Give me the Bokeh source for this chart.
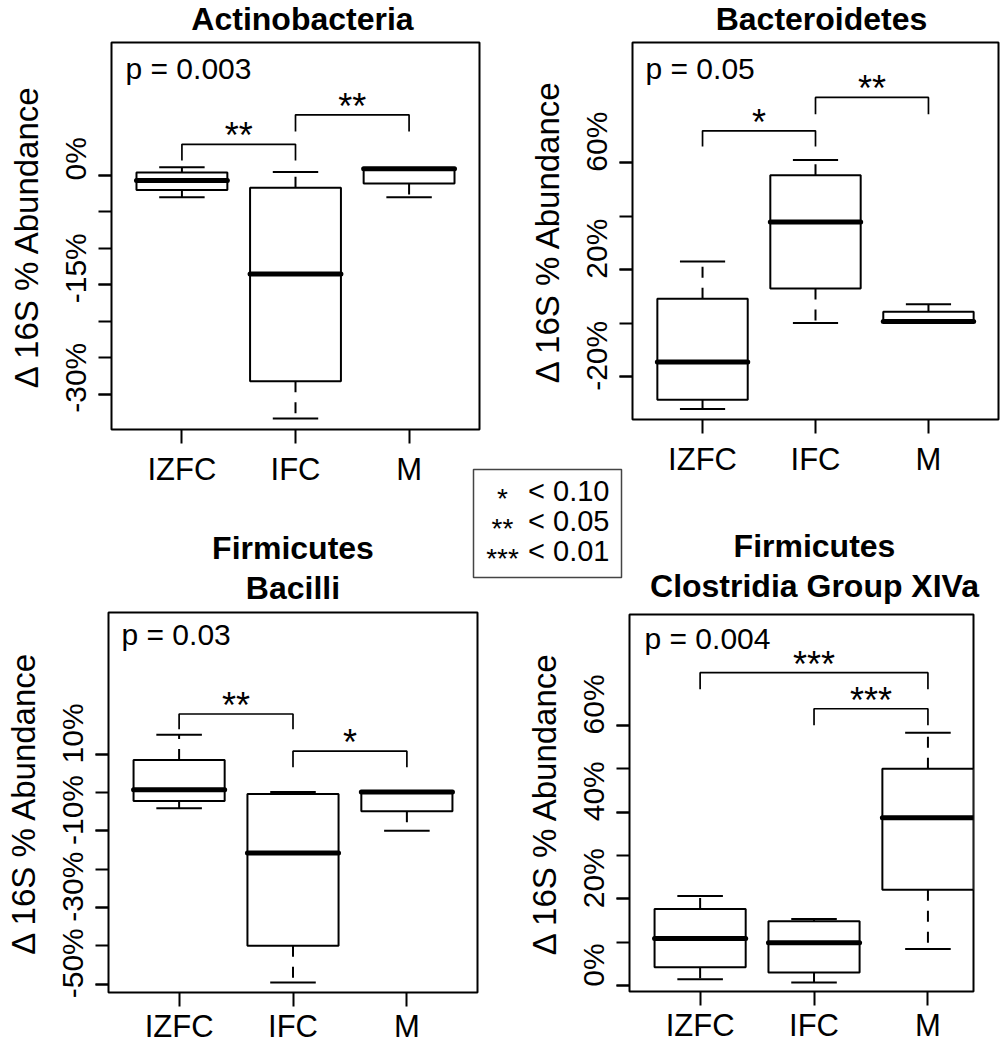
import numpy as np
from bokeh.plotting import figure
from bokeh.models import (Range1d, FixedTicker, PrintfTickFormatter,
                          GridBox, ColumnDataSource)
from bokeh.embed import file_html
from bokeh.resources import INLINE
from bokeh.core.properties import value

FONT = "Liberation Sans"
NBSP = "\u00a0"


def mid(px):
    # distance from the alphabetic baseline up to the middle of the em box
    return 0.3465 * px


# ---------------- data ----------------
groups = ["IZFC", "IFC", "M"]
group_pos = [1, 2, 3]
y_axis_title = "Δ 16S % Abundance"

# Actinobacteria
act_title = ["Actinobacteria"]
act_p = "p = 0.003"
act_min = [-3.0, -33.3, -3.0]
act_q1 = [-2.0, -28.2, -1.1]
act_med = [-0.7, -13.5, 0.9]
act_q3 = [0.4, -1.7, 0.9]
act_max = [1.1, 0.45, 0.9]
act_ticks = [-30, -25, -20, -15, -10, -5, 0]
act_tick_labels = [-30, -15, 0]
act_br_from = [1, 2]
act_br_to = [2, 3]
act_br_top = [4.25, 8.3]
act_br_foot = [2.05, 6.0]
act_br_stars = ["**", "**"]

# Bacteroidetes
bac_title = ["Bacteroidetes"]
bac_p = "p = 0.05"
bac_min = [-32.1, 0.0, 0.0]
bac_q1 = [-28.6, 12.9, 0.2]
bac_med = [-14.5, 37.8, 0.6]
bac_q3 = [9.1, 55.2, 4.2]
bac_max = [23.0, 60.9, 7.0]
bac_ticks = [-20, 0, 20, 40, 60]
bac_tick_labels = [-20, 20, 60]
bac_br_from = [1, 2]
bac_br_to = [2, 3]
bac_br_top = [71.8, 84.3]
bac_br_foot = [66.0, 78.0]
bac_br_stars = ["*", "**"]

# Firmicutes Bacilli
bacil_title = ["Firmicutes", "Bacilli"]
bacil_p = "p = 0.03"
bacil_min = [-4.1, -49.6, -10.0]
bacil_q1 = [-2.2, -40.0, -4.9]
bacil_med = [0.7, -15.8, 0.15]
bacil_q3 = [8.5, -0.4, 0.15]
bacil_max = [15.1, 0.15, 0.15]
bacil_ticks = [-50, -40, -30, -20, -10, 0, 10]
bacil_tick_labels = [-50, -30, -10, 10]
bacil_br_from = [1, 2]
bacil_br_to = [2, 3]
bacil_br_top = [20.5, 10.8]
bacil_br_foot = [16.5, 6.6]
bacil_br_stars = ["**", "*"]

# Firmicutes Clostridia Group XIVa
clos_title = ["Firmicutes", "Clostridia Group XIVa"]
clos_p = "p = 0.004"
clos_min = [1.5, 0.8, 8.5]
clos_q1 = [4.3, 3.1, 22.1]
clos_med = [10.9, 9.9, 38.7]
clos_q3 = [17.7, 14.9, 50.0]
clos_max = [20.7, 15.4, 58.3]
clos_ticks = [0, 10, 20, 30, 40, 50, 60]
clos_tick_labels = [0, 20, 40, 60]
clos_br_from = [1, 2]
clos_br_to = [3, 3]
clos_br_top = [72.1, 63.8]
clos_br_foot = [68.3, 60.0]
clos_br_stars = ["***", "***"]

# significance legend
legend_stars = ["*", "**", "***"]
legend_text = ["< 0.10", "< 0.05", "< 0.01"]

# ---------------- layout (page pixels) ----------------
panels = [
    dict(title=act_title, p=act_p, lo=act_min, q1=act_q1, med=act_med, q3=act_q3, hi=act_max,
         ticks=act_ticks, labels=act_tick_labels, bf=act_br_from, bt=act_br_to,
         btop=act_br_top, bfoot=act_br_foot, stars=act_br_stars,
         xr=(0.38, 3.62), yr=(-34.8, 18.2),
         cx=3, cy=0, w=478, h=505, l=108, r=2, t=42, b=76, xso=8, lshift=4,
         px=14, py=36, tdx=7, tbase=[30]),
    dict(title=bac_title, p=bac_p, lo=bac_min, q1=bac_q1, med=bac_med, q3=bac_q3, hi=bac_max,
         ticks=bac_ticks, labels=bac_tick_labels, bf=bac_br_from, bt=bac_br_to,
         btop=bac_br_top, bfoot=bac_br_foot, stars=bac_br_stars,
         xr=(0.38, 3.62), yr=(-36.0, 104.8),
         cx=483, cy=0, w=517, h=479, l=149, r=2, t=42, b=57, xso=8, lshift=5,
         px=13, py=36, tdx=6, tbase=[30]),
    dict(title=bacil_title, p=bacil_p, lo=bacil_min, q1=bacil_q1, med=bacil_med, q3=bacil_q3, hi=bacil_max,
         ticks=bacil_ticks, labels=bacil_tick_labels, bf=bacil_br_from, bt=bacil_br_to,
         btop=bacil_br_top, bfoot=bacil_br_foot, stars=bacil_br_stars,
         xr=(0.38, 3.62), yr=(-52.2, 47.0),
         cx=0, cy=505, w=479, h=541, l=108, r=2, t=107, b=52, xso=2, lshift=5,
         px=13, py=32, tdx=0, tbase=[-53, -13]),
    dict(title=clos_title, p=clos_p, lo=clos_min, q1=clos_q1, med=clos_med, q3=clos_q3, hi=clos_max,
         ticks=clos_ticks, labels=clos_tick_labels, bf=clos_br_from, bt=clos_br_to,
         btop=clos_br_top, bfoot=clos_br_foot, stars=clos_br_stars,
         xr=(0.38, 3.40), yr=(-1.3, 85.5),
         cx=482, cy=479, w=494, h=566, l=147, r=3, t=135, b=52, xso=2, lshift=5,
         px=15, py=34, tdx=13, tbase=[-57, -17]),
]

STAR_PX, PTXT_PX, TITLE_PX = 36, 30, 32


def build_panel(c):
    p = figure(width=c["w"], height=c["h"], x_range=Range1d(*c["xr"]), y_range=Range1d(*c["yr"]),
               output_backend="svg", toolbar_location=None, title=None,
               min_border_left=c["l"], min_border_right=c["r"],
               min_border_top=c["t"], min_border_bottom=c["b"])
    p.background_fill_color = "white"
    p.border_fill_color = "white"
    p.outline_line_color = "black"
    p.outline_line_width = 2
    p.xgrid.visible = False
    p.ygrid.visible = False

    xa = p.xaxis[0]
    xa.ticker = FixedTicker(ticks=group_pos)
    xa.major_label_overrides = {pos: name for pos, name in zip(group_pos, groups)}
    xa.major_label_text_font = FONT
    xa.major_label_text_font_size = "31px"
    xa.major_label_text_color = "black"
    xa.major_tick_out = 14
    xa.major_tick_in = 0
    xa.major_tick_line_width = 2
    xa.major_tick_line_color = "black"
    xa.minor_tick_line_color = None
    xa.axis_line_color = None
    xa.major_label_standoff = c["xso"]

    ya = p.yaxis[0]
    ya.ticker = FixedTicker(ticks=c["labels"], minor_ticks=c["ticks"])
    ya.formatter = PrintfTickFormatter(format="%d%%")
    # labels sit a little above their ticks in the original figure
    ya.major_label_overrides = {v: NBSP * c["lshift"] + f"{v}%" for v in c["labels"]}
    ya.major_label_orientation = "vertical"
    ya.major_label_text_font = FONT
    ya.major_label_text_font_size = "30px"
    ya.major_label_text_color = "black"
    ya.major_tick_out = 13
    ya.major_tick_in = 0
    ya.major_tick_line_width = 2
    ya.major_tick_line_color = "black"
    ya.minor_tick_out = 13
    ya.minor_tick_in = 0
    ya.minor_tick_line_width = 2
    ya.minor_tick_line_color = "black"
    ya.axis_line_color = None
    ya.major_label_standoff = 6
    ya.axis_label = y_axis_title
    ya.axis_label_text_font = FONT
    ya.axis_label_text_font_size = "33px"
    ya.axis_label_text_font_style = "normal"
    ya.axis_label_text_color = "black"
    ya.axis_label_standoff = 12

    x = np.array(group_pos, dtype=float)
    src = ColumnDataSource(dict(x=x, lo=c["lo"], q1=c["q1"], med=c["med"], q3=c["q3"], hi=c["hi"],
                                bl=x - 0.4, br=x + 0.4, sl=x - 0.2, sr=x + 0.2))
    p.segment("x", "q3", "x", "hi", source=src, line_color="black", line_width=2, line_dash="11 10")
    p.segment("x", "q1", "x", "lo", source=src, line_color="black", line_width=2, line_dash="11 10")
    p.segment("sl", "hi", "sr", "hi", source=src, line_color="black", line_width=2)
    p.segment("sl", "lo", "sr", "lo", source=src, line_color="black", line_width=2)
    p.quad(left="bl", right="br", bottom="q1", top="q3", source=src,
           fill_color="white", line_color="black", line_width=2)
    p.segment("bl", "med", "br", "med", source=src, line_color="black", line_width=5, line_cap="round")

    xs = [[a, a, b, b] for a, b in zip(c["bf"], c["bt"])]
    ys = [[f, t, t, f] for t, f in zip(c["btop"], c["bfoot"])]
    p.multi_line(xs, ys, line_color="black", line_width=1.7)
    p.text(x=[(a + b) / 2 for a, b in zip(c["bf"], c["bt"])], y=c["btop"], text=c["stars"],
           text_align="center", text_baseline="middle", y_offset=4 - mid(STAR_PX),
           text_font=value(FONT), text_font_size=f"{STAR_PX}px", text_color="black")

    p.text(x=[c["xr"][0]], y=[c["yr"][1]], text=[c["p"]], x_offset=c["px"],
           y_offset=c["py"] - mid(PTXT_PX),
           text_align="left", text_baseline="middle",
           text_font=value(FONT), text_font_size=f"{PTXT_PX}px", text_color="black")
    return p


figs = [build_panel(c) for c in panels]

# ---- transparent overlay (page-pixel coordinates) for panel titles and the legend ----
OV_X0, OV_X1, OV_Y0, OV_Y1 = 1, 999, 1, 1044
ov = figure(width=OV_X1 - OV_X0, height=OV_Y1 - OV_Y0,
            x_range=Range1d(OV_X0, OV_X1), y_range=Range1d(OV_Y1, OV_Y0),
            output_backend="svg", toolbar_location=None, title=None,
            x_axis_location=None, y_axis_location=None,
            min_border_left=0, min_border_right=0, min_border_top=0, min_border_bottom=0)
ov.background_fill_color = None
ov.border_fill_color = None
ov.outline_line_color = None
ov.xgrid.visible = False
ov.ygrid.visible = False

t_x, t_y, t_txt = [], [], []
for c in panels:
    fl = c["cx"] + c["l"]
    fr = c["cx"] + c["w"] - c["r"]
    ft = c["cy"] + c["t"]
    for line, base in zip(c["title"], c["tbase"]):
        t_x.append((fl + fr) / 2 + c["tdx"])
        t_y.append((base if base > 0 else ft + base) - mid(TITLE_PX))
        t_txt.append(line)
ov.text(x=t_x, y=t_y, text=t_txt, text_align="center", text_baseline="middle",
        text_font=value(FONT), text_font_size=f"{TITLE_PX}px", text_font_style="bold",
        text_color="black")

# legend box (left, right, top, bottom) and text rows
LEG_L, LEG_R, LEG_T, LEG_B = 473, 621, 469, 577
ov.quad(left=[LEG_L], right=[LEG_R], top=[LEG_T], bottom=[LEG_B],
        fill_color=None, line_color="#444444", line_width=1.5)
rows_base = [LEG_T + 32 + 30 * i for i in range(len(legend_text))]
ov.text(x=[LEG_L + 29] * len(legend_stars), y=[b + 7 - mid(28) for b in rows_base], text=legend_stars,
        text_align="center", text_baseline="middle",
        text_font=value(FONT), text_font_size="28px", text_color="black")
ov.text(x=[LEG_R - 12] * len(legend_text), y=[b - mid(29) for b in rows_base], text=legend_text,
        text_align="right", text_baseline="middle",
        text_font=value(FONT), text_font_size="29px", text_color="black")

# grid lines x: 0,1,3,479,481,482,483,976,999,1000 ; y: 0,1,479,505,1044,1045,1046
grid = GridBox(children=[(figs[0], 0, 2, 3, 2), (figs[1], 0, 6, 2, 3),
                         (figs[2], 3, 0, 3, 3), (figs[3], 2, 5, 3, 2),
                         (ov, 1, 1, 3, 7)],
               cols=["1px", "2px", "476px", "2px", "1px", "1px", "493px", "23px", "1px"],
               rows=["1px", "478px", "26px", "539px", "1px", "1px"])

open("out.html", "w").write(file_html(grid, INLINE, title="16S abundance"))
